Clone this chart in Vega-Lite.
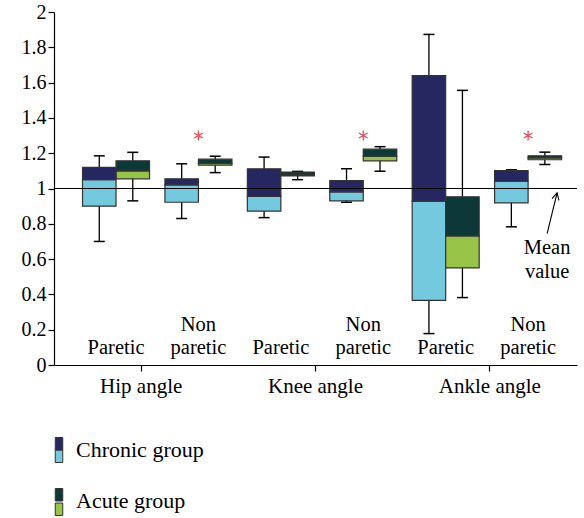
{
  "$schema": "https://vega.github.io/schema/vega-lite/v6.json",
  "width": 523,
  "height": 353,
  "autosize": {"type": "none"},
  "padding": {"left": 54, "top": 12, "right": 7, "bottom": 153},
  "config": {
    "view": {"stroke": null},
    "font": "Liberation Serif",
    "axis": {"labelFont": "Liberation Serif"},
    "legend": {"labelFont": "Liberation Serif"}
  },
  "datasets": {
    "boxes": [
      {"sub": "Hip Paretic", "group": "Chronic group", "min": 0.70, "q1": 0.90, "med": 1.05, "q3": 1.12, "max": 1.185},
      {"sub": "Hip Paretic", "group": "Acute group", "min": 0.93, "q1": 1.055, "med": 1.10, "q3": 1.157, "max": 1.205},
      {"sub": "Hip Non paretic", "group": "Chronic group", "min": 0.83, "q1": 0.922, "med": 1.021, "q3": 1.055, "max": 1.14},
      {"sub": "Hip Non paretic", "group": "Acute group", "min": 1.09, "q1": 1.132, "med": 1.143, "q3": 1.166, "max": 1.183},
      {"sub": "Knee Paretic", "group": "Chronic group", "min": 0.835, "q1": 0.872, "med": 0.955, "q3": 1.112, "max": 1.178},
      {"sub": "Knee Paretic", "group": "Acute group", "min": 1.05, "q1": 1.072, "med": 1.078, "q3": 1.093, "max": 1.097},
      {"sub": "Knee Non paretic", "group": "Chronic group", "min": 0.922, "q1": 0.93, "med": 0.981, "q3": 1.045, "max": 1.112},
      {"sub": "Knee Non paretic", "group": "Acute group", "min": 1.098, "q1": 1.157, "med": 1.183, "q3": 1.223, "max": 1.237},
      {"sub": "Ankle Paretic", "group": "Chronic group", "min": 0.178, "q1": 0.366, "med": 0.928, "q3": 1.639, "max": 1.873},
      {"sub": "Ankle Paretic", "group": "Acute group", "min": 0.382, "q1": 0.55, "med": 0.732, "q3": 0.953, "max": 1.556},
      {"sub": "Ankle Non paretic", "group": "Chronic group", "min": 0.783, "q1": 0.919, "med": 1.041, "q3": 1.102, "max": 1.106},
      {"sub": "Ankle Non paretic", "group": "Acute group", "min": 1.136, "q1": 1.163, "med": 1.174, "q3": 1.185, "max": 1.206}
    ],
    "labels": [
      {"sub": "Hip Paretic", "l1": "", "l2": "Paretic"},
      {"sub": "Hip Non paretic", "l1": "Non", "l2": "paretic"},
      {"sub": "Knee Paretic", "l1": "", "l2": "Paretic"},
      {"sub": "Knee Non paretic", "l1": "Non", "l2": "paretic"},
      {"sub": "Ankle Paretic", "l1": "", "l2": "Paretic"},
      {"sub": "Ankle Non paretic", "l1": "Non", "l2": "paretic"}
    ],
    "stars": [
      {"sub": "Hip Non paretic"},
      {"sub": "Knee Non paretic"},
      {"sub": "Ankle Non paretic"}
    ],
    "note": [
      {"sub": "Ankle Non paretic", "t1": "Mean", "t2": "value"}
    ],
    "angles": [
      {"angle": "Hip angle"},
      {"angle": "Knee angle"},
      {"angle": "Ankle angle"}
    ]
  },
  "layer": [
    {
      "encoding": {
        "x": {
          "field": "sub",
          "type": "nominal",
          "scale": {
            "type": "band",
            "domain": ["Hip Paretic", "Hip Non paretic", "Knee Paretic", "Knee Non paretic", "Ankle Paretic", "Ankle Non paretic"],
            "paddingInner": 0,
            "paddingOuter": 0.173,
            "align": 0.73
          },
          "axis": null
        }
      },
      "layer": [
        {
          "data": {"name": "boxes"},
          "mark": {"type": "rule", "color": "black", "strokeWidth": 1.3},
          "encoding": {
            "xOffset": {"field": "group", "type": "nominal", "scale": {"domain": ["Chronic group", "Acute group"], "paddingInner": 0, "paddingOuter": 0.23}},
            "y": {
              "field": "min",
              "type": "quantitative",
              "scale": {"domain": [0, 2], "nice": false},
              "axis": {"values": [0, 0.2, 0.4, 0.6, 0.8, 1, 1.2, 1.4, 1.6, 1.8, 2], "labelOverlap": false, "labelFlush": false, "format": "~g", "title": null, "labelFont": "Liberation Serif", "labelFontSize": 20, "labelColor": "black", "grid": false, "tickSize": 6, "labelPadding": 2, "domainColor": "black", "tickColor": "black", "domainWidth": 1.2, "tickWidth": 1.2}
            },
            "y2": {"field": "max"}
          }
        },
        {
          "data": {"name": "boxes"},
          "mark": {"type": "tick", "color": "black", "size": 11, "thickness": 1.5, "opacity": 1},
          "encoding": {
            "xOffset": {"field": "group", "type": "nominal"},
            "y": {"field": "max", "type": "quantitative", "axis": {"values": [0, 0.2, 0.4, 0.6, 0.8, 1, 1.2, 1.4, 1.6, 1.8, 2], "labelOverlap": false, "labelFlush": false, "format": "~g", "title": null, "labelFont": "Liberation Serif", "labelFontSize": 20, "labelColor": "black", "grid": false, "tickSize": 6, "labelPadding": 2, "domainColor": "black", "tickColor": "black", "domainWidth": 1.2, "tickWidth": 1.2}}
          }
        },
        {
          "data": {"name": "boxes"},
          "mark": {"type": "tick", "color": "black", "size": 11, "thickness": 1.5, "opacity": 1},
          "encoding": {
            "xOffset": {"field": "group", "type": "nominal"},
            "y": {"field": "min", "type": "quantitative", "axis": {"values": [0, 0.2, 0.4, 0.6, 0.8, 1, 1.2, 1.4, 1.6, 1.8, 2], "labelOverlap": false, "labelFlush": false, "format": "~g", "title": null, "labelFont": "Liberation Serif", "labelFontSize": 20, "labelColor": "black", "grid": false, "tickSize": 6, "labelPadding": 2, "domainColor": "black", "tickColor": "black", "domainWidth": 1.2, "tickWidth": 1.2}}
          }
        },
        {
          "data": {"name": "boxes"},
          "mark": {"type": "bar", "stroke": "#333333", "strokeWidth": 1.2, "opacity": 1},
          "encoding": {
            "xOffset": {"field": "group", "type": "nominal"},
            "y": {"field": "q1", "type": "quantitative", "axis": {"values": [0, 0.2, 0.4, 0.6, 0.8, 1, 1.2, 1.4, 1.6, 1.8, 2], "labelOverlap": false, "labelFlush": false, "format": "~g", "title": null, "labelFont": "Liberation Serif", "labelFontSize": 20, "labelColor": "black", "grid": false, "tickSize": 6, "labelPadding": 2, "domainColor": "black", "tickColor": "black", "domainWidth": 1.2, "tickWidth": 1.2}},
            "y2": {"field": "med"},
            "fill": {
              "field": "group",
              "type": "nominal",
              "scale": {"domain": ["Chronic group", "Acute group"], "range": ["#74c9de", "#97c447"]},
              "legend": {
                "orient": "none",
                "legendX": -8,
                "legendY": 425,
                "title": null,
                "padding": 0,
                "symbolType": "M-0.3,0H0.3V1H-0.3Z",
                "symbolSize": 625,
                "symbolStrokeColor": "#333333",
                "symbolStrokeWidth": 1,
                "symbolOpacity": 1,
                "rowPadding": 25,
                "labelOffset": 4,
                "labelFont": "Liberation Serif",
                "labelFontSize": 22,
                "labelColor": "black",
                "labelExpr": "''"
              }
            }
          }
        },
        {
          "data": {"name": "boxes"},
          "mark": {"type": "bar", "stroke": "#333333", "strokeWidth": 1.2, "opacity": 1},
          "encoding": {
            "xOffset": {"field": "group", "type": "nominal"},
            "y": {"field": "med", "type": "quantitative", "axis": {"values": [0, 0.2, 0.4, 0.6, 0.8, 1, 1.2, 1.4, 1.6, 1.8, 2], "labelOverlap": false, "labelFlush": false, "format": "~g", "title": null, "labelFont": "Liberation Serif", "labelFontSize": 20, "labelColor": "black", "grid": false, "tickSize": 6, "labelPadding": 2, "domainColor": "black", "tickColor": "black", "domainWidth": 1.2, "tickWidth": 1.2}},
            "y2": {"field": "q3"},
            "fill": {
              "field": "group",
              "type": "nominal",
              "scale": {"domain": ["Chronic group", "Acute group"], "range": ["#262660", "#0c3937"]},
              "legend": {
                "orient": "none",
                "legendX": -8,
                "legendY": 425,
                "title": null,
                "padding": 0,
                "symbolType": "M-0.3,-1H0.3V0H-0.3Z",
                "symbolSize": 625,
                "symbolStrokeColor": "#333333",
                "symbolStrokeWidth": 1,
                "symbolOpacity": 1,
                "rowPadding": 25,
                "labelOffset": 4,
                "labelFont": "Liberation Serif",
                "labelFontSize": 22,
                "labelColor": "black"
              }
            }
          }
        },
        {
          "data": {"values": [{}]},
          "mark": {"type": "rule", "color": "black", "strokeWidth": 1.2},
          "encoding": {"x": null, "y": {"datum": 1, "axis": {"values": [0, 0.2, 0.4, 0.6, 0.8, 1, 1.2, 1.4, 1.6, 1.8, 2], "labelOverlap": false, "labelFlush": false, "format": "~g", "title": null, "labelFont": "Liberation Serif", "labelFontSize": 20, "labelColor": "black", "grid": false, "tickSize": 6, "labelPadding": 2, "domainColor": "black", "tickColor": "black", "domainWidth": 1.2, "tickWidth": 1.2}}}
        },
        {
          "data": {"name": "stars"},
          "mark": {"type": "point", "shape": "M0,-1L0,1M-0.87,-0.5L0.87,0.5M-0.87,0.5L0.87,-0.5", "filled": false, "stroke": "#e94b56", "strokeWidth": 1.3, "size": 100, "opacity": 1},
          "encoding": {"y": {"datum": 1.3, "axis": {"values": [0, 0.2, 0.4, 0.6, 0.8, 1, 1.2, 1.4, 1.6, 1.8, 2], "labelOverlap": false, "labelFlush": false, "format": "~g", "title": null, "labelFont": "Liberation Serif", "labelFontSize": 20, "labelColor": "black", "grid": false, "tickSize": 6, "labelPadding": 2, "domainColor": "black", "tickColor": "black", "domainWidth": 1.2, "tickWidth": 1.2}}}
        },
        {
          "data": {"name": "labels"},
          "mark": {"type": "text", "font": "Liberation Serif", "fontSize": 20.5, "baseline": "alphabetic", "align": "center", "color": "black"},
          "encoding": {"y": {"datum": 0.19, "axis": {"values": [0, 0.2, 0.4, 0.6, 0.8, 1, 1.2, 1.4, 1.6, 1.8, 2], "labelOverlap": false, "labelFlush": false, "format": "~g", "title": null, "labelFont": "Liberation Serif", "labelFontSize": 20, "labelColor": "black", "grid": false, "tickSize": 6, "labelPadding": 2, "domainColor": "black", "tickColor": "black", "domainWidth": 1.2, "tickWidth": 1.2}}, "text": {"field": "l1"}}
        },
        {
          "data": {"name": "labels"},
          "mark": {"type": "text", "font": "Liberation Serif", "fontSize": 20.5, "baseline": "alphabetic", "align": "center", "color": "black"},
          "encoding": {"y": {"datum": 0.065, "axis": {"values": [0, 0.2, 0.4, 0.6, 0.8, 1, 1.2, 1.4, 1.6, 1.8, 2], "labelOverlap": false, "labelFlush": false, "format": "~g", "title": null, "labelFont": "Liberation Serif", "labelFontSize": 20, "labelColor": "black", "grid": false, "tickSize": 6, "labelPadding": 2, "domainColor": "black", "tickColor": "black", "domainWidth": 1.2, "tickWidth": 1.2}}, "text": {"field": "l2"}}
        },
        {
          "data": {"name": "note"},
          "mark": {"type": "text", "font": "Liberation Serif", "fontSize": 20.5, "baseline": "alphabetic", "align": "center", "color": "black", "dx": 19},
          "encoding": {"y": {"datum": 0.631, "axis": {"values": [0, 0.2, 0.4, 0.6, 0.8, 1, 1.2, 1.4, 1.6, 1.8, 2], "labelOverlap": false, "labelFlush": false, "format": "~g", "title": null, "labelFont": "Liberation Serif", "labelFontSize": 20, "labelColor": "black", "grid": false, "tickSize": 6, "labelPadding": 2, "domainColor": "black", "tickColor": "black", "domainWidth": 1.2, "tickWidth": 1.2}}, "text": {"field": "t1"}}
        },
        {
          "data": {"name": "note"},
          "mark": {"type": "text", "font": "Liberation Serif", "fontSize": 20.5, "baseline": "alphabetic", "align": "center", "color": "black", "dx": 19},
          "encoding": {"y": {"datum": 0.495, "axis": {"values": [0, 0.2, 0.4, 0.6, 0.8, 1, 1.2, 1.4, 1.6, 1.8, 2], "labelOverlap": false, "labelFlush": false, "format": "~g", "title": null, "labelFont": "Liberation Serif", "labelFontSize": 20, "labelColor": "black", "grid": false, "tickSize": 6, "labelPadding": 2, "domainColor": "black", "tickColor": "black", "domainWidth": 1.2, "tickWidth": 1.2}}, "text": {"field": "t2"}}
        },
        {
          "data": {"name": "note"},
          "mark": {"type": "rule", "color": "black", "strokeWidth": 1.1, "xOffset": 19, "x2Offset": 29},
          "encoding": {
            "x": {"field": "sub", "type": "nominal", "bandPosition": 0.5},
            "x2": {"field": "sub", "bandPosition": 0.5},
            "y": {"datum": 0.745, "axis": {"values": [0, 0.2, 0.4, 0.6, 0.8, 1, 1.2, 1.4, 1.6, 1.8, 2], "labelOverlap": false, "labelFlush": false, "format": "~g", "title": null, "labelFont": "Liberation Serif", "labelFontSize": 20, "labelColor": "black", "grid": false, "tickSize": 6, "labelPadding": 2, "domainColor": "black", "tickColor": "black", "domainWidth": 1.2, "tickWidth": 1.2}},
            "y2": {"datum": 0.975}
          }
        },
        {
          "data": {"name": "note"},
          "mark": {"type": "point", "shape": "M-0.45,0.85L0,0L0.45,0.85", "filled": false, "stroke": "black", "strokeWidth": 1.1, "size": 250, "angle": 14, "xOffset": 29, "opacity": 1},
          "encoding": {"y": {"datum": 0.975, "axis": {"values": [0, 0.2, 0.4, 0.6, 0.8, 1, 1.2, 1.4, 1.6, 1.8, 2], "labelOverlap": false, "labelFlush": false, "format": "~g", "title": null, "labelFont": "Liberation Serif", "labelFontSize": 20, "labelColor": "black", "grid": false, "tickSize": 6, "labelPadding": 2, "domainColor": "black", "tickColor": "black", "domainWidth": 1.2, "tickWidth": 1.2}}}
        }
      ],
      "resolve": {"scale": {"fill": "independent"}}
    },
    {
      "data": {"name": "angles"},
      "mark": {"type": "tick", "opacity": 0},
      "encoding": {
        "x": {
          "field": "angle",
          "type": "nominal",
          "scale": {"type": "band", "domain": ["Hip angle", "Knee angle", "Ankle angle"], "paddingInner": 0, "paddingOuter": 0},
          "axis": {
            "orient": "bottom",
            "title": null,
            "labelAngle": 0,
            "labelFontSize": 21,
            "labelFont": "Liberation Serif",
            "labelColor": "black",
            "labelPadding": 4,
            "tickSize": 6,
            "tickColor": "black",
            "tickWidth": 1.2,
            "domainColor": "black",
            "domainWidth": 1.2
          }
        }
      }
    }
  ],
  "resolve": {"scale": {"x": "independent"}}
}
